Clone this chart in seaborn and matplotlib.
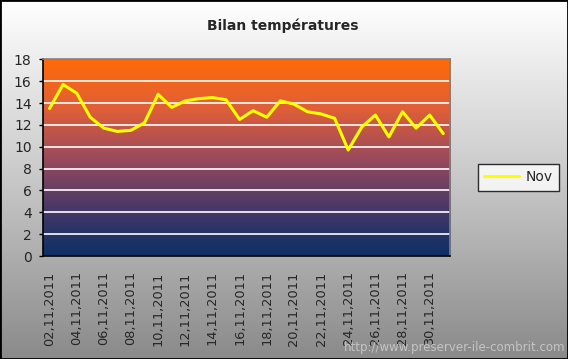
import numpy as np
import pandas as pd
import matplotlib
matplotlib.use("Agg")
import matplotlib.pyplot as plt
from matplotlib.colors import LinearSegmentedColormap
from matplotlib.patches import Rectangle
import seaborn as sns

# donnees
jours = ["%02d,11,2011" % d for d in range(2, 31)] + ["01,12,2011"]
temperatures = [13.5, 15.7, 14.9, 12.7, 11.7, 11.4, 11.5, 12.2, 14.8, 13.6,
                14.2, 14.4, 14.5, 14.3, 12.5, 13.3, 12.7, 14.2, 13.9, 13.2,
                13.0, 12.6, 9.7, 11.8, 12.9, 10.9, 13.2, 11.7, 12.9, 11.2]
serie = "Nov"
titre = "Bilan températures"
y_ticks = list(range(0, 19, 2))

df = pd.DataFrame({"idx": range(len(jours)), "jour": jours, "temp": temperatures})

sns.set_style("white")
plt.rcParams["font.family"] = ["DejaVu Sans"]

fig = plt.figure(figsize=(5.68, 3.59), dpi=100)

# fond de la figure : degrade blanc -> gris
bg = fig.add_axes([0, 0, 1, 1], zorder=-10)
grad = np.linspace(1.0, 0.0, 256).reshape(-1, 1)
cm_bg = LinearSegmentedColormap.from_list("bg", ["#8a8a8a", "#c8c8c8", "#ffffff"])
bg.imshow(grad, aspect="auto", cmap=cm_bg, extent=[0, 1, 0, 1], origin="upper")
bg.axis("off")
fig.patches.append(Rectangle((0, 0), 1, 1, transform=fig.transFigure, fill=False,
                             edgecolor="black", linewidth=2, zorder=20))

ax = fig.add_axes([0.0752, 0.2869, 0.7171, 0.5479])
n = len(jours)
cm_plot = LinearSegmentedColormap.from_list(
    "sunset", ["#0c2f66", "#4a3867", "#9c4a5c", "#e05f38", "#ff6a08"])
ax.imshow(np.linspace(1, 0, 256).reshape(-1, 1), aspect="auto", cmap=cm_plot,
          extent=[-0.5, n - 0.5, 0, 18], origin="upper", zorder=0)

for yv in y_ticks[1:-1]:
    ax.axhline(yv, color="white", linewidth=1.2, zorder=1)

sns.lineplot(data=df, x="idx", y="temp", ax=ax, color="#ffff00", linewidth=2.2,
             label=serie, zorder=3)

ax.set_xlim(-0.5, n - 0.5)
ax.set_ylim(0, 18)
ax.set_yticks(y_ticks)
ax.set_yticklabels([str(v) for v in y_ticks], fontsize=10)
lab_idx = list(range(0, n - 1, 2))
ax.set_xticks(lab_idx)
ax.set_xticklabels([jours[i] for i in lab_idx], rotation=90, fontsize=9.3)
ax.set_xticks(np.arange(-0.5, n, 1), minor=True)
ax.tick_params(axis="x", which="major", length=0, pad=11)
ax.tick_params(axis="x", which="minor", length=4, width=1, color="black", direction="out")
ax.tick_params(axis="y", length=3, width=1, color="black", direction="out", left=True, pad=5)
ax.set_xlabel("")
ax.set_ylabel("")
for s in ["left", "bottom"]:
    ax.spines[s].set_color("black")
    ax.spines[s].set_linewidth(1.2)
for s in ["top", "right"]:
    ax.spines[s].set_color("#808080")
    ax.spines[s].set_linewidth(1.2)

leg = ax.legend(loc="center left", bbox_to_anchor=(1.069, 0.40), frameon=True,
                fancybox=False, fontsize=10, handlelength=2.5, borderpad=0.45,
                handletextpad=0.5, borderaxespad=0)
leg.get_frame().set_edgecolor("black")
leg.get_frame().set_linewidth(1)
leg.get_frame().set_facecolor("white")

fig.text(0.498, 0.928, titre, ha="center", va="center", fontsize=10, fontweight="bold")
fig.text(0.995, 0.014, "http://www.preserver-ile-combrit.com", ha="right", va="bottom",
         fontsize=8.5, color="#c4c4c4")

fig.savefig("out.png", dpi=100)
